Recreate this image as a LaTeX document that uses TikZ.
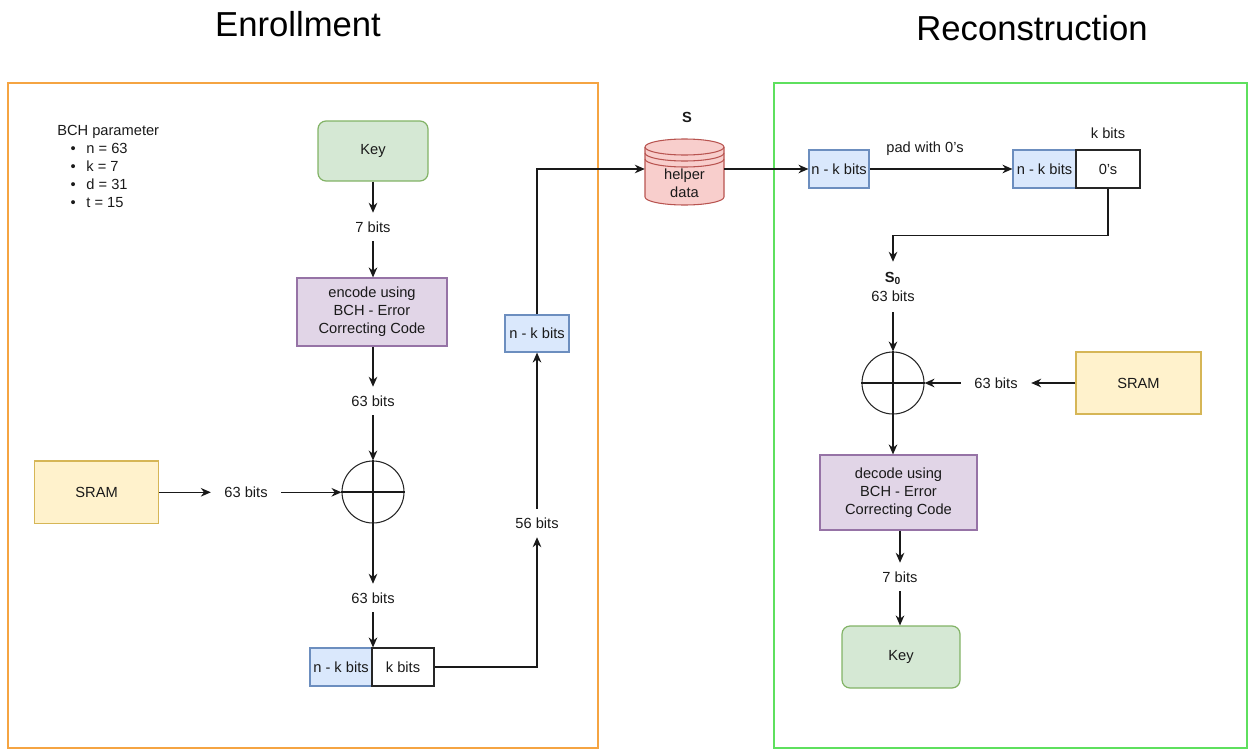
\documentclass[tikz,border=0pt]{standalone}
\usepackage{fontspec}
\setmainfont{Liberation Sans}
\usetikzlibrary{arrows.meta,positioning}
\definecolor{gfill}{HTML}{D5E8D4}\definecolor{gline}{HTML}{82B366}
\definecolor{pfill}{HTML}{E1D5E7}\definecolor{pline}{HTML}{9673A6}
\definecolor{yfill}{HTML}{FFF2CC}\definecolor{yline}{HTML}{D6B656}
\definecolor{bfill}{HTML}{DAE8FC}\definecolor{bline}{HTML}{6C8EBF}
\definecolor{rfill}{HTML}{F8CECC}\definecolor{rline}{HTML}{B85450}
\definecolor{oframe}{HTML}{F5A442}\definecolor{gframe}{HTML}{5EE05E}
\definecolor{txt}{HTML}{1A1A1A}
\tikzset{
  base/.style={font=\fontsize{11}{13.5}\selectfont, text=txt},
  keybox/.style={base, draw=gline, fill=gfill, rounded corners=6pt, line width=0.9pt},
  codebox/.style={base, draw=pline, fill=pfill, line width=0.9pt, align=center},
  srambox/.style={base, draw=yline, fill=yfill, line width=1pt},
  nkbox/.style={base, draw=bline, fill=bfill, line width=0.9pt, inner sep=0pt, minimum height=28.5pt},
  whitebox/.style={base, draw=black!85, fill=white, line width=0.9pt, inner sep=0pt, minimum height=28.5pt},
  bitlbl/.style={base, inner xsep=10pt, inner ysep=0pt, minimum height=21pt},
  xorc/.style={circle, draw=black!85, line width=0.8pt, minimum size=46.5pt, inner sep=0pt},
  arr/.style={draw=black!90, line width=0.8pt, -{Stealth[length=7.5pt,width=6.5pt]}},
  ln/.style={draw=black!90, line width=0.8pt},
  title/.style={font=\fontsize{26}{30}\selectfont, text=black}
}
\begin{document}
\begin{tikzpicture}[x=0.75pt,y=-0.75pt]
\useasboundingbox (0,0) rectangle (1249,749);
% titles
\node[title] (t1) at (298,24) {Enrollment};
\node[title] (t2) at (1032,28) {Reconstruction};
% frames
\draw[draw=oframe, line width=0.9pt] (8,83) rectangle (598,748);
\draw[draw=gframe, line width=0.9pt] (774,83) rectangle (1247,748);
% BCH parameters
\node[base, anchor=north west, align=left, inner sep=0pt] (bch) at (57,125)
  {BCH parameter\\
   \hspace*{10pt}\textbullet\hspace{8pt}n = 63\\
   \hspace*{10pt}\textbullet\hspace{8pt}k = 7\\
   \hspace*{10pt}\textbullet\hspace{8pt}d = 31\\
   \hspace*{10pt}\textbullet\hspace{8pt}t = 15};
% Enrollment
\node[keybox, minimum width=82.5pt, minimum height=45pt] (key1) at (373,151) {Key};
\node[bitlbl] (l7a) at (373,227) {7 bits};
\node[codebox, minimum width=112.5pt, minimum height=51pt, inner sep=0pt] (enc) at (372,312)
  {encode using\\BCH - Error\\Correcting Code};
\node[bitlbl] (l63a) at (373,401) {63 bits};
\node[xorc] (x1) at (373,492) {};
\draw[ln] (x1.north) -- (x1.south) (x1.west) -- (x1.east);
\node[srambox, minimum width=93pt, minimum height=47pt] (sram1) at (96.6,492.3) {SRAM};
\node[bitlbl] (l63b) at (246,492.3) {63 bits};
\node[bitlbl] (l63c) at (373,598) {63 bits};
\node[nkbox, minimum width=46.5pt] (nk1) at (341,667) {n - k bits};
\node[whitebox, minimum width=46.5pt] (kb1) at (403,667) {k bits};
\node[bitlbl] (l56) at (537,523) {56 bits};
\node[nkbox, minimum width=48pt, minimum height=27.75pt] (nk2) at (537,333.5) {n - k bits};
% helper data cylinder
\node[minimum width=59.25pt, minimum height=48.75pt, inner sep=0pt] (helper) at (684.5,169) {};
\fill[rfill] (645,147) -- (645,197) arc[start angle=180,end angle=360,x radius=29.625pt,y radius=6pt]
  -- (724,147) arc[start angle=0,end angle=180,x radius=29.625pt,y radius=6pt] -- cycle;
\draw[rline, line width=0.8pt] (645,147) -- (645,197) arc[start angle=180,end angle=360,x radius=29.625pt,y radius=6pt]
  -- (724,147) arc[start angle=0,end angle=180,x radius=29.625pt,y radius=6pt];
\draw[rline, line width=0.8pt] (645,147) arc[start angle=180,end angle=360,x radius=29.625pt,y radius=6pt];
\draw[rline, line width=0.8pt] (645,153) arc[start angle=180,end angle=360,x radius=29.625pt,y radius=6pt];
\draw[rline, line width=0.8pt] (645,159) arc[start angle=180,end angle=360,x radius=29.625pt,y radius=6pt];
\node[base, align=center] (hd) at (684.5,183) {helper\\data};
\node[base, font=\fontsize{11}{13}\selectfont\bfseries] (slbl) at (687,117) {S};
% Reconstruction
\node[nkbox, minimum width=45pt] (nk3) at (839,169) {n - k bits};
\node[nkbox, minimum width=47.25pt] (nk4) at (1044.5,169) {n - k bits};
\node[whitebox, minimum width=48pt] (zeros) at (1108,169) {0's};
\node[base] (pad) at (925,149) {pad with 0's};
\node[base] (kbl) at (1108,133) {k bits};
\node[base, align=center, inner sep=0pt, minimum height=37.5pt] (s0) at (893,287)
  {\textbf{S}\textsubscript{\textbf{0}}\\[1pt]63 bits};
\node[xorc] (x2) at (893,383) {};
\draw[ln] (x2.north) -- (x2.south) (x2.west) -- (x2.east);
\node[srambox, minimum width=93.75pt, minimum height=46.5pt] (sram2) at (1138.5,383) {SRAM};
\node[bitlbl] (l63d) at (996,383) {63 bits};
\node[codebox, minimum width=117.75pt, minimum height=56.25pt, inner sep=0pt] (dec) at (898.5,492.5)
  {decode using\\BCH - Error\\Correcting Code};
\node[bitlbl] (l7b) at (900,577) {7 bits};
\node[keybox, minimum width=88.5pt, minimum height=46.5pt] (key2) at (901,657) {Key};
% connectors enrollment
\draw[arr] (key1.south) -- (l7a.north);
\draw[arr] (l7a.south) -- (enc.north -| l7a.south);
\draw[arr] (enc.south -| l63a.north) -- (l63a.north);
\draw[arr] (l63a.south) -- (x1.north);
\draw[arr] (sram1.east) -- (l63b.west);
\draw[arr] (l63b.east) -- (l63b.east -| x1.west);
\draw[arr] (x1.south) -- (l63c.north);
\draw[arr] (l63c.south) -- (l63c.south |- kb1.north);
\draw[arr] (kb1.east) -| (l56.south);
\draw[arr] (l56.north) -- (nk2.south);
\draw[arr] (nk2.north) |- (helper.west);
% connectors reconstruction
\draw[arr] (helper.east) -- (nk3.west);
\draw[arr] (nk3.east) -- (nk4.west);
\draw[arr] (zeros.south) -- ++(0,47) -| (s0.north);
\draw[arr] (s0.south) -- (x2.north);
\draw[arr] (sram2.west) -- (l63d.east);
\draw[arr] (l63d.west) -- (x2.east);
\draw[arr] (x2.south) -- (x2.south |- dec.north);
\draw[arr] (dec.south -| l7b.north) -- (l7b.north);
\draw[arr] (l7b.south) -- (key2.north -| l7b.south);
\end{tikzpicture}
\end{document}
